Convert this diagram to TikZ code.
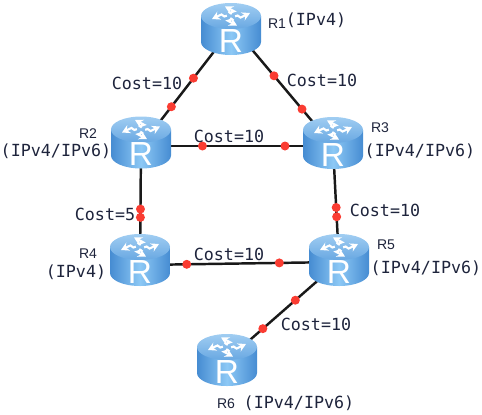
\documentclass[tikz,border=0pt]{standalone}
\usepackage{fontspec}
\setmainfont{Liberation Sans}
\newfontfamily\costfont{DejaVu Sans Mono}
\usetikzlibrary{calc, arrows.meta}
\definecolor{routeredge}{RGB}{70, 140, 210}
\definecolor{routermid}{RGB}{140, 200, 245}
\definecolor{routertop}{RGB}{160, 205, 242}
\definecolor{routerrim}{RGB}{105, 168, 226}
\definecolor{dotred}{RGB}{250, 60, 50}
\definecolor{labelink}{RGB}{30, 36, 60}
\tikzset{
    routerspot/.style={inner sep=0pt, minimum size=0pt},
    link/.style={line width=1.4pt, draw=black!90},
    reddot/.style={circle, fill=dotred, inner sep=0pt, minimum size=0.18cm},
    costlabel/.style={font=\costfont\fontsize{9.5}{11}\selectfont, text=labelink, inner sep=0pt},
    namelabel/.style={font=\fontsize{8}{9}\selectfont, text=labelink, inner sep=0pt},
    routericon/.pic={
        \shade[left color=routeredge, right color=routeredge, middle color=routermid]
            (-30,13) -- (-30,-13) arc[x radius=30, y radius=13, start angle=180, end angle=360] -- (30,13) -- cycle;
        \shade[top color=routertop, bottom color=routerrim] (0,13) ellipse[x radius=30, y radius=13];
        % four arrows on the lid
        \foreach \a in {35,125,215,305} {
            \draw[white, line width=1.2pt, -{Stealth[length=4.5pt,width=5pt]}, shift={(0,13)}, yscale=0.5, rotate=\a]
                (3,-3) -- (6,-3) -- (6,-8) -- (19,-6);
        }
        \node[text=white, font=\fontsize{19}{19}\selectfont, inner sep=0pt] (-letter) at (0,-12) {R};
    }
}
\begin{document}
\begin{tikzpicture}[x=0.02cm, y=0.02cm]
    \useasboundingbox (0,0) rectangle (482,414);
    \node[routerspot] (R1) at (233,387) {};
    \node[routerspot] (R2) at (141,268) {};
    \node[routerspot] (R3) at (333,268) {};
    \node[routerspot] (R4) at (140,149) {};
    \node[routerspot] (R5) at (339,152) {};
    \node[routerspot] (R6) at (227,54) {};

    \draw[link] (R1) -- (R2);
    \draw[link] (R1) -- (R3);
    \draw[link] (R2) -- (R3);
    \draw[link] (R2) -- (R4);
    \draw[link] (R3) -- (R5);
    \draw[link] (R4) -- (R5);
    \draw[link] (R5) -- (R6);

    \pic (iconR1) at (231,385) {routericon};
    \pic (iconR2) at (141,271.5) {routericon};
    \pic (iconR3) at (333,271) {routericon};
    \pic (iconR4) at (140,154) {routericon};
    \pic (iconR5) at (339,154) {routericon};
    \pic (iconR6) at (227,54) {routericon};

    \node[reddot] (d12a) at ($(R1)!0.43!(R2)$) {};
    \node[reddot] (d12b) at ($(R1)!0.67!(R2)$) {};
    \node[reddot] (d13a) at ($(R1)!0.41!(R3)$) {};
    \node[reddot] (d13b) at ($(R1)!0.69!(R3)$) {};
    \node[reddot] (d23a) at ($(R2)!0.32!(R3)$) {};
    \node[reddot] (d23b) at ($(R2)!0.75!(R3)$) {};
    \node[reddot] (d24a) at ($(R2)!0.53!(R4)$) {};
    \node[reddot] (d24b) at ($(R2)!0.60!(R4)$) {};
    \node[reddot] (d35a) at ($(R3)!0.53!(R5)$) {};
    \node[reddot] (d35b) at ($(R3)!0.61!(R5)$) {};
    \node[reddot] (d45a) at ($(R4)!0.235!(R5)$) {};
    \node[reddot] (d45b) at ($(R4)!0.70!(R5)$) {};
    \node[reddot] (d56a) at ($(R5)!0.39!(R6)$) {};
    \node[reddot] (d56b) at ($(R5)!0.68!(R6)$) {};

    % costs
    \node[costlabel] (c12) at (147,331) {Cost=10};
    \node[costlabel] (c13) at (322,334) {Cost=10};
    \node[costlabel] (c23) at (229,278) {Cost=10};
    \node[costlabel] (c24) at (105,200) {Cost=5};
    \node[costlabel] (c35) at (385,204) {Cost=10};
    \node[costlabel] (c45) at (229,160) {Cost=10};
    \node[costlabel] (c56) at (316,90) {Cost=10};

    % router names
    \node[namelabel] (n1) at (277,390) {R1};
    \node[costlabel] (t1) at (316,394) {(IPv4)};
    \node[namelabel] (n2) at (88,280) {R2};
    \node[costlabel] (t2) at (56,263) {(IPv4/IPv6)};
    \node[namelabel] (n3) at (380,286) {R3};
    \node[costlabel] (t3) at (420,263) {(IPv4/IPv6)};
    \node[namelabel] (n4) at (88,160) {R4};
    \node[costlabel] (t4) at (76,142) {(IPv4)};
    \node[namelabel] (n5) at (386,169) {R5};
    \node[costlabel] (t5) at (426,146) {(IPv4/IPv6)};
    \node[namelabel] (n6) at (226,10) {R6};
    \node[costlabel] (t6) at (299,11) {(IPv4/IPv6)};
\end{tikzpicture}
\end{document}
